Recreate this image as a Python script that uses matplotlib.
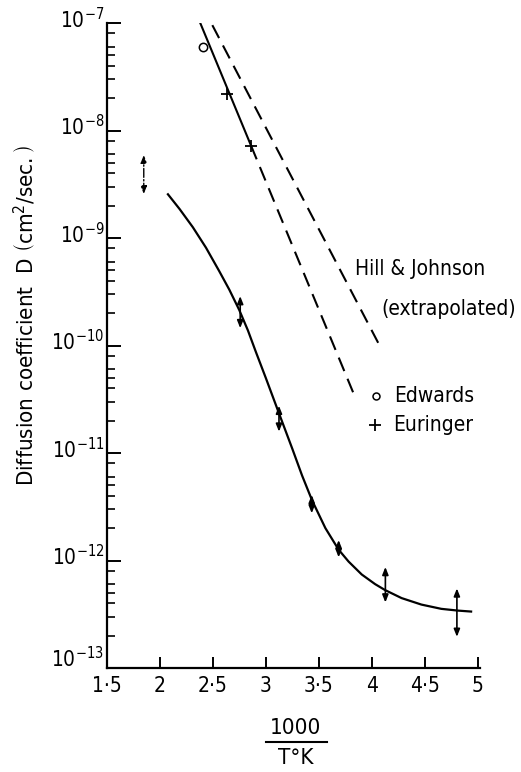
import matplotlib
matplotlib.use("Agg")
import matplotlib.pyplot as plt
import matplotlib.ticker
import matplotlib.font_manager as fm
from matplotlib.lines import Line2D
from matplotlib.transforms import ScaledTranslation

# the original lettering is narrow; use a condensed face when one is installed
entries = [(f.name, str(f.stretch)) for f in fm.fontManager.ttflist]
if any(n == "Liberation Sans Narrow" for n, s in entries):
    family, stretch, narrow = "Liberation Sans Narrow", "normal", True
elif any(n == "DejaVu Sans" and "condensed" in s for n, s in entries):
    family, stretch, narrow = "DejaVu Sans", "condensed", True
else:
    family, stretch, narrow = "DejaVu Sans", "normal", False
plt.rcParams["font.family"] = [family, "DejaVu Sans"]
plt.rcParams["font.stretch"] = stretch
fs = 15 if narrow else 13.4
ylab_fs = 16 if narrow else 14

# main fitted curve (1000/T, D)
curve_x = [2.075, 2.185, 2.31, 2.434, 2.56, 2.654, 2.748, 2.83, 2.905, 2.998,
           3.123, 3.248, 3.341, 3.435, 3.561, 3.686, 3.78, 3.904, 4.03, 4.124,
           4.28, 4.467, 4.655, 4.811, 4.936]
curve_d = [2.55e-9, 1.86e-9, 1.26e-9, 8.13e-10, 4.9e-10, 3.31e-10, 2.14e-10,
           1.38e-10, 8.71e-11, 5.01e-11, 2.34e-11, 1.1e-11, 6.17e-12, 3.63e-12,
           2.0e-12, 1.26e-12, 9.77e-13, 7.41e-13, 6.03e-13, 5.31e-13, 4.47e-13,
           3.89e-13, 3.55e-13, 3.42e-13, 3.35e-13]

# measured ranges (double arrows)
err_x = [2.757, 3.123, 3.432, 3.686, 4.127, 4.802]
err_lo = [1.45e-10, 1.58e-11, 2.75e-12, 1.07e-12, 4.07e-13, 1.95e-13]
err_hi = [2.88e-10, 2.75e-11, 4.07e-12, 1.55e-12, 8.7e-13, 5.5e-13]
# uncertain point (dash-dot arrow)
unc_x = 1.847
unc_lo = 2.57e-9
unc_hi = 5.9e-9

# literature values
edwards_x = [2.41]
edwards_d = [6.0e-8]
euringer_x = [2.635, 2.86]
euringer_d = [2.2e-8, 7.1e-9]
lit_x = [2.38, 2.86, 3.845]
lit_d = [1.0e-7, 7.2e-9, 3.24e-11]
hj_x = [2.494, 4.089]
hj_d = [9.55e-8, 9.3e-11]

xticks = [1.5, 2, 2.5, 3, 3.5, 4, 4.5, 5]
xtick_labels = ["1·5", "2", "2·5", "3", "3·5", "4", "4·5", "5"]
yticks = [1e-13, 1e-12, 1e-11, 1e-10, 1e-9, 1e-8, 1e-7]
ytick_labels = [r"$10^{-13}$", r"$10^{-12}$", r"$10^{-11}$", r"$10^{-10}$",
                r"$10^{-9}$", r"$10^{-8}$", r"$10^{-7}$"]

fig = plt.figure(figsize=(5.21, 7.72), dpi=100)
ax = fig.add_axes([107 / 521, 1 - 668 / 772, 373 / 521, 645 / 772])

ax.plot(curve_x, curve_d, color="k", lw=1.6)
ax.plot(lit_x[:2], lit_d[:2], color="k", lw=1.5)
ax.plot(lit_x[1:], lit_d[1:], color="k", lw=1.5, dashes=(7, 4))
ax.plot(hj_x, hj_d, color="k", lw=1.5, dashes=(7, 4))

ax.plot(edwards_x, edwards_d, "o", ms=6, mfc="white", mec="k", mew=1.1)
ax.plot(euringer_x, euringer_d, "+", ms=8, color="k", mew=1.3)

arrow = dict(arrowstyle="<|-|>,head_length=0.45,head_width=0.18",
             mutation_scale=10, lw=1.2, color="k", shrinkA=0, shrinkB=0)
for x, lo, hi in zip(err_x, err_lo, err_hi):
    ax.annotate("", xy=(x, hi), xytext=(x, lo), arrowprops=arrow)
ax.annotate("", xy=(unc_x, unc_hi), xytext=(unc_x, unc_lo),
            arrowprops=dict(arrow, linestyle="-.", lw=1.0))

ax.set_yscale("log")
ax.set_xlim(1.5, 5.02)
ax.set_ylim(1e-13, 1e-7)
ax.set_xticks(xticks)
ax.set_xticklabels(xtick_labels)
ax.set_yticks(yticks)
ax.set_yticklabels(ytick_labels)
ax.yaxis.set_minor_locator(matplotlib.ticker.LogLocator(base=10, subs=[2, 3, 4, 5, 6, 8]))
ax.yaxis.set_minor_formatter(matplotlib.ticker.NullFormatter())

for side in ["top", "right"]:
    ax.spines[side].set_visible(False)
for side in ["left", "bottom"]:
    ax.spines[side].set_linewidth(1.6)

ax.tick_params(axis="y", which="major", direction="in", length=10, width=1.4,
               labelsize=15, pad=2)
ax.tick_params(axis="y", which="minor", direction="in", length=6, width=1.2)
ax.tick_params(axis="x", which="major", direction="in", length=8, width=1.4,
               labelsize=15, pad=6)

# "10" of each power label sits a little above its tick, as in the original
for i, lbl in enumerate(ax.get_yticklabels()):
    lbl.set_verticalalignment("baseline")
    dy = 1 if i == 0 else -5
    lbl.set_transform(lbl.get_transform() + ScaledTranslation(0, dy / 100, fig.dpi_scale_trans))

ax.text(3.845, 10 ** -9.29, "Hill & Johnson", fontsize=fs, va="center", ha="left")
ax.text(4.089, 10 ** -9.66, "(extrapolated)", fontsize=fs, va="center", ha="left")
ax.plot([4.042], [10 ** -10.47], "o", ms=5, mfc="white", mec="k", mew=1.1, clip_on=False)
ax.text(4.211, 10 ** -10.47, "Edwards", fontsize=fs, va="center", ha="left")
ax.plot([4.033], [10 ** -10.74], "+", ms=8, color="k", mew=1.3, clip_on=False)
ax.text(4.20, 10 ** -10.74, "Euringer", fontsize=fs, va="center", ha="left")

fig.text(25 / 521, 1 - 316 / 772,
         r"Diffusion coefficient  D $\left(\mathrm{cm^2/sec.}\right)$",
         rotation=90, fontsize=ylab_fs, ha="center", va="center")

fig.text(296 / 521, 1 - 728 / 772, "1000", fontsize=16, ha="center", va="center")
fig.add_artist(Line2D([266 / 521, 327 / 521], [1 - 742 / 772, 1 - 742 / 772],
                      color="k", lw=1.5))
fig.text(296 / 521, 1 - 758 / 772, "T°K", fontsize=16, ha="center", va="center")

fig.savefig("out.png", dpi=100, facecolor="white")
